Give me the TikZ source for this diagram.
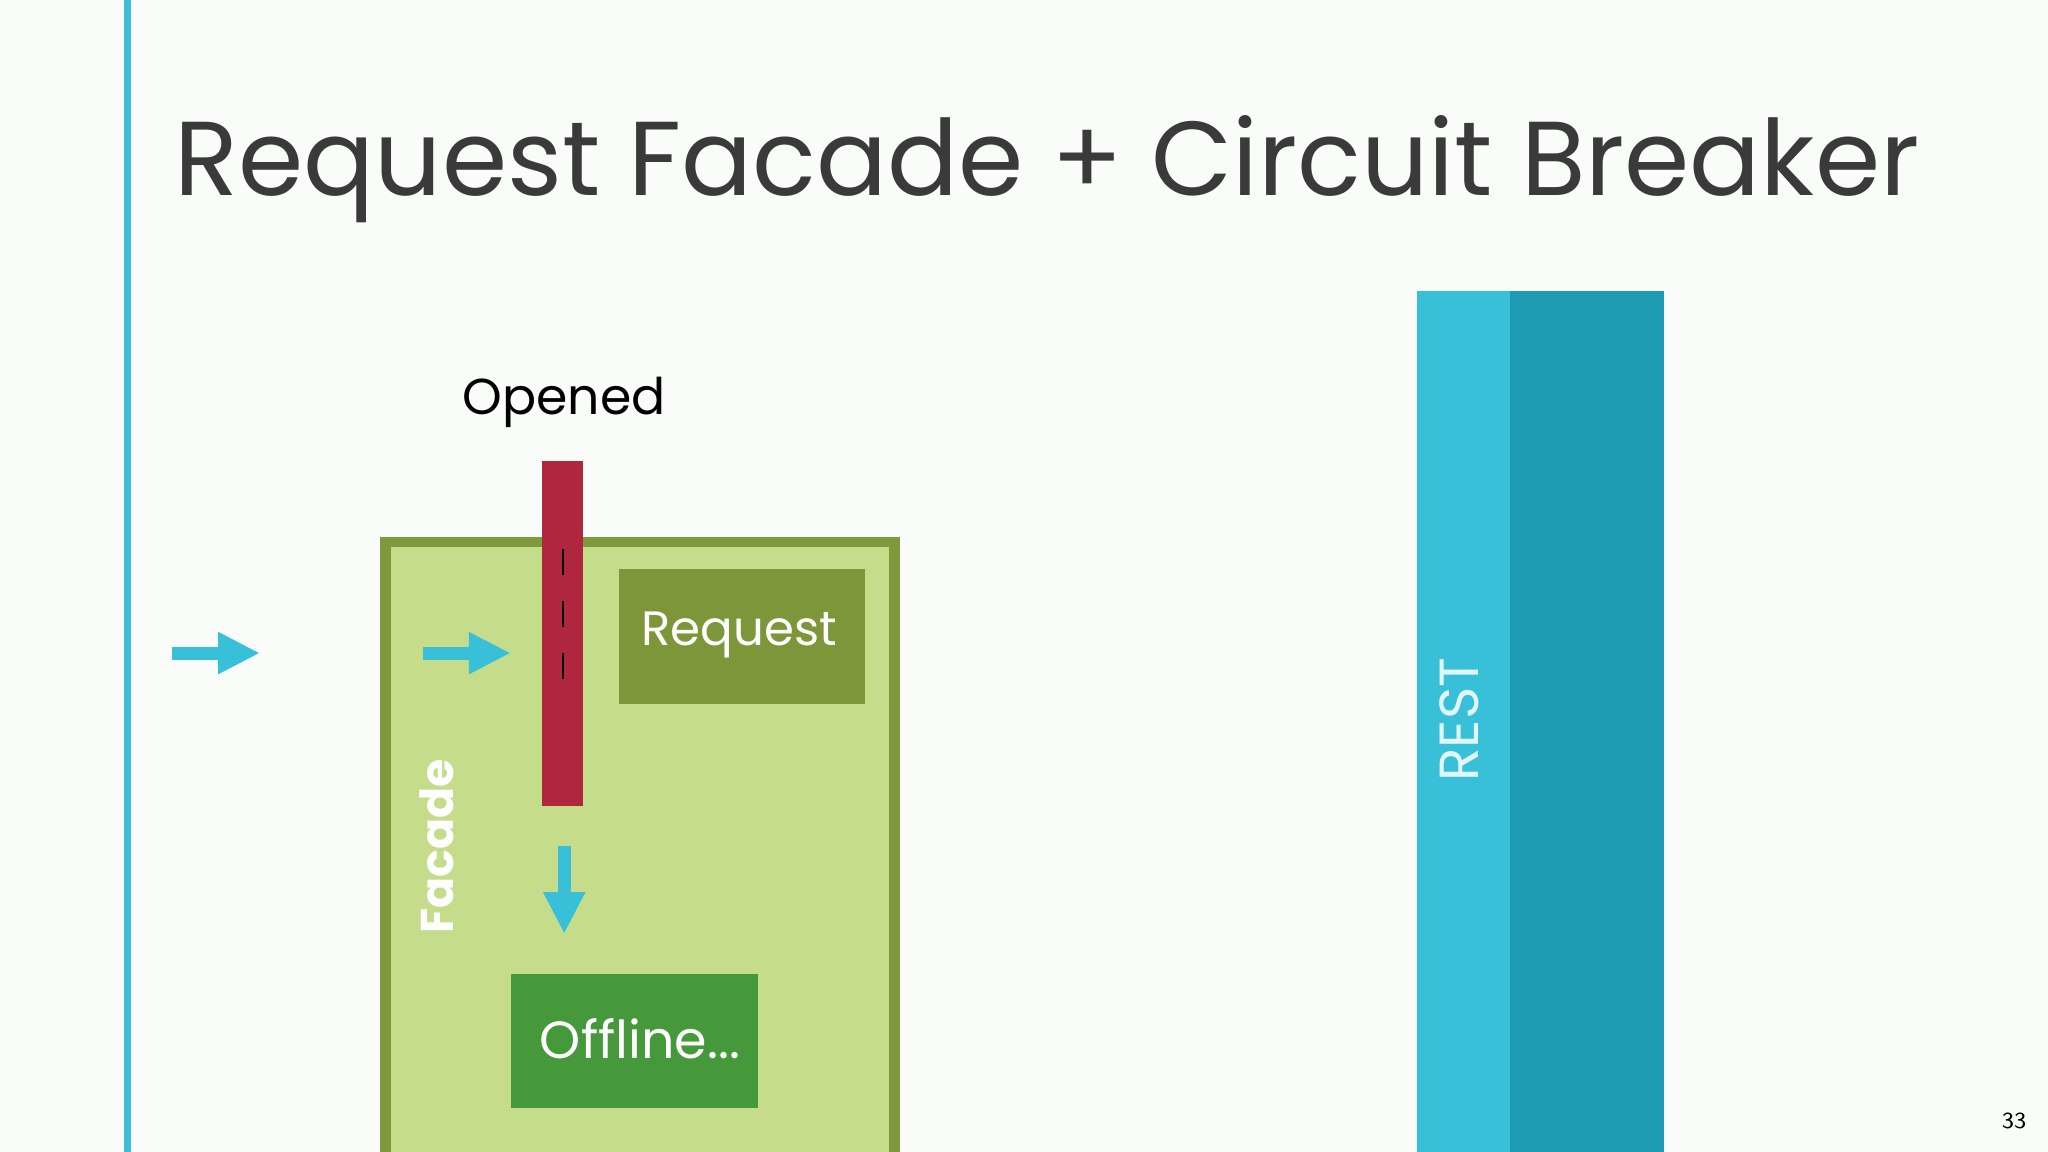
\documentclass[tikz,border=0pt]{standalone}
\usepackage{fontspec}
\setmainfont{Poppins}
\usetikzlibrary{arrows.meta}
\definecolor{bg}{HTML}{FAFCFA}
\definecolor{cy}{HTML}{38C0D8}
\definecolor{dcy}{HTML}{1C9BB2}
\definecolor{red}{HTML}{B0263F}
\definecolor{lg}{HTML}{C5DC8A}
\definecolor{lgb}{HTML}{7E9A3C}
\definecolor{mg}{HTML}{7E963A}
\definecolor{dg}{HTML}{46993A}
\definecolor{tx}{HTML}{3A3A3A}
\tikzset{
  flow/.style={cy, line width=1mm, -{Triangle[length=3.2mm,width=3mm]}},
}
\begin{document}
\begin{tikzpicture}[x=0.1mm,y=-0.1mm]
\fill[bg] (0,0) rectangle (1568,882);
\useasboundingbox (0,0) rectangle (1568,882);
\fill[cy] (95,0) rectangle (100,882);
\node[anchor=base west, inner sep=0, text=tx, font=\fontsize{22.9}{23}\selectfont] (title) at (133,150) {Request Facade + Circuit Breaker};
% REST
\fill[cy] (1085,223) rectangle (1156,882);
\fill[dcy] (1156,223) rectangle (1274,882);
\node[rotate=90, text=white!85!cy, font=\fontsize{12}{12}\selectfont] (rest) at (1117,551) {REST};
% Facade
\draw[lgb, fill=lg, line width=0.8mm] (295,415) rectangle (685,890);
\node[rotate=90, text=white, font=\fontsize{10}{10}\selectfont\bfseries] (facade) at (334,648) {Facade};
\fill[mg] (474,436) rectangle (662,539);
\node[text=white, font=\fontsize{10.5}{11}\selectfont] (req) at (566,486) {Request};
\fill[dg] (391,746) rectangle (580,848);
\node[text=white, font=\fontsize{11.4}{12}\selectfont] (off) at (490,795) {Offline...};
% breaker
\fill[red] (415,353) rectangle (446,617);
\draw[black, line width=0.2mm, dash pattern=on 2mm off 2mm] (431,420) -- (431,540);
\node[font=\fontsize{11}{11}\selectfont] (opened) at (432,308) {Opened};
% arrows
\coordinate (a1s) at (132,500); \coordinate (a1e) at (199,500);
\coordinate (a2s) at (324,500); \coordinate (a2e) at (391,500);
\coordinate (a3s) at (432,648); \coordinate (a3e) at (432,715);
\draw[flow] (a1s) -- (a1e);
\draw[flow] (a2s) -- (a2e);
\draw[flow] (a3s) -- (a3e);
\node[font=\fontsize{5}{5}\selectfont\sffamily] (pg) at (1542,858) {33};
\end{tikzpicture}
\end{document}
